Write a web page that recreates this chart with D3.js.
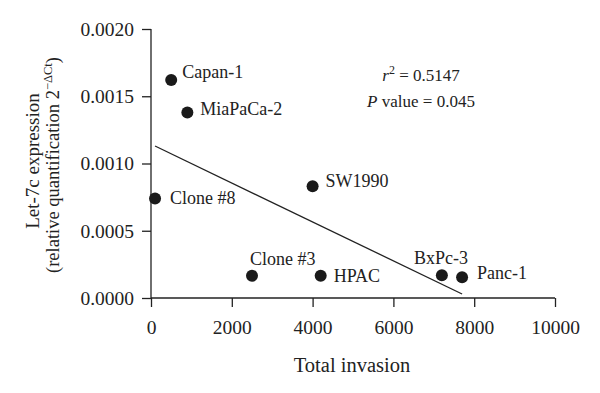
<!DOCTYPE html>
<html>
<head>
<meta charset="utf-8">
<script src="https://cdn.jsdelivr.net/npm/d3@7"></script>
<style>
  body { margin: 0; background: #fff; }
  svg text { font-family: "Liberation Serif", "Times New Roman", "DejaVu Serif", serif; fill: #222; }
</style>
</head>
<body>
<div id="chart"></div>
<script>
// cell lines: total invasion vs let-7c expression
var cellLines = ["Capan-1", "MiaPaCa-2", "SW1990", "Clone #8", "Clone #3", "HPAC", "BxPc-3", "Panc-1"];
var invasion = [500, 900, 4000, 100, 2500, 4200, 7200, 7700];
var let7c = [0.00162, 0.00138, 0.00083, 0.00074, 0.000166, 0.000166, 0.000169, 0.000154];

// regression line end points
var fitX = [100, 7700];
var fitY = [0.00113, 0.00003];

var xTicks = [0, 2000, 4000, 6000, 8000, 10000];
var yTicks = [0, 0.0005, 0.0010, 0.0015, 0.0020];

var width = 600, height = 393;
var margin = {left: 151, right: 45, top: 29, bottom: 95};

var svg = d3.select("#chart").append("svg")
    .attr("width", width)
    .attr("height", height);

var x = d3.scaleLinear().domain([0, 10000]).range([margin.left, width - margin.right]);
var y = d3.scaleLinear().domain([0, 0.002]).range([height - margin.bottom, margin.top]);

var xAxis = svg.append("g")
    .attr("transform", "translate(0," + y(0) + ")")
    .call(d3.axisBottom(x).tickValues(xTicks).tickFormat(d3.format("d")).tickSize(9).tickPadding(13));

var yAxis = svg.append("g")
    .attr("transform", "translate(" + x(0) + ",0)")
    .call(d3.axisLeft(y).tickValues(yTicks).tickFormat(d3.format(".4f")).tickSize(9).tickPadding(8));

[xAxis, yAxis].forEach(function (a) {
    a.attr("font-family", null);
    a.select(".domain").attr("stroke", "#222").attr("stroke-width", 1.3);
    a.selectAll(".tick line").attr("stroke", "#222").attr("stroke-width", 1.3);
    a.selectAll(".tick text")
        .attr("font-size", 19.5)
        .attr("fill", "#222");
});
// plain domain lines, the tick lines give the outer ticks
xAxis.select(".domain").attr("d", "M" + x(0) + ",0H" + x(10000));
yAxis.select(".domain").attr("d", "M0," + y(0) + "V" + y(0.002));

// regression line
svg.append("line")
    .attr("x1", x(fitX[0])).attr("y1", y(fitY[0]))
    .attr("x2", x(fitX[1])).attr("y2", y(fitY[1]))
    .attr("stroke", "#222")
    .attr("stroke-width", 1.3);

var pts = cellLines.map(function (c, i) {
    return {name: c, x: invasion[i], y: let7c[i]};
});

svg.append("g").selectAll("circle")
    .data(pts)
    .enter().append("circle")
    .attr("cx", function (d) { return x(d.x); })
    .attr("cy", function (d) { return y(d.y); })
    .attr("r", 6)
    .attr("fill", "#1a1a1a");

// label placement relative to each point
var labelOffset = {
    "Capan-1": [11, -2, "start"],
    "MiaPaCa-2": [13, 3, "start"],
    "SW1990": [13, 1, "start"],
    "Clone #8": [15, 6, "start"],
    "Clone #3": [-2, -11, "start"],
    "HPAC": [13, 6, "start"],
    "BxPc-3": [-1, -11, "middle"],
    "Panc-1": [15, 2, "start"]
};

svg.append("g").selectAll("text")
    .data(pts)
    .enter().append("text")
    .attr("x", function (d) { return x(d.x) + labelOffset[d.name][0]; })
    .attr("y", function (d) { return y(d.y) + labelOffset[d.name][1]; })
    .attr("text-anchor", function (d) { return labelOffset[d.name][2]; })
    .attr("font-size", 18)
    .text(function (d) { return d.name; });

// stats
var r2 = svg.append("text")
    .attr("x", 421).attr("y", 81)
    .attr("text-anchor", "middle")
    .attr("font-size", 17);
r2.append("tspan").attr("font-style", "italic").text("r");
r2.append("tspan").attr("dy", -7).attr("font-size", 12).text("2");
r2.append("tspan").attr("dy", 7).text(" = 0.5147");

var pv = svg.append("text")
    .attr("x", 421).attr("y", 107)
    .attr("text-anchor", "middle")
    .attr("font-size", 17);
pv.append("tspan").attr("font-style", "italic").text("P");
pv.append("tspan").text(" value = 0.045");

// axis titles
svg.append("text")
    .attr("x", 352).attr("y", 372)
    .attr("text-anchor", "middle")
    .attr("font-size", 20.5)
    .text("Total invasion");

svg.append("text")
    .attr("transform", "translate(39,161) rotate(-90)")
    .attr("text-anchor", "middle")
    .attr("font-size", 19)
    .text("Let-7c expression");

var yl2 = svg.append("text")
    .attr("transform", "translate(59,165) rotate(-90)")
    .attr("text-anchor", "middle")
    .attr("font-size", 18.5);
yl2.append("tspan").text("(relative quantification 2");
yl2.append("tspan").attr("dy", -7).attr("font-size", 12.5).text("\u2212\u0394Ct");
yl2.append("tspan").attr("dy", 7).text(")");
</script>
</body>
</html>
